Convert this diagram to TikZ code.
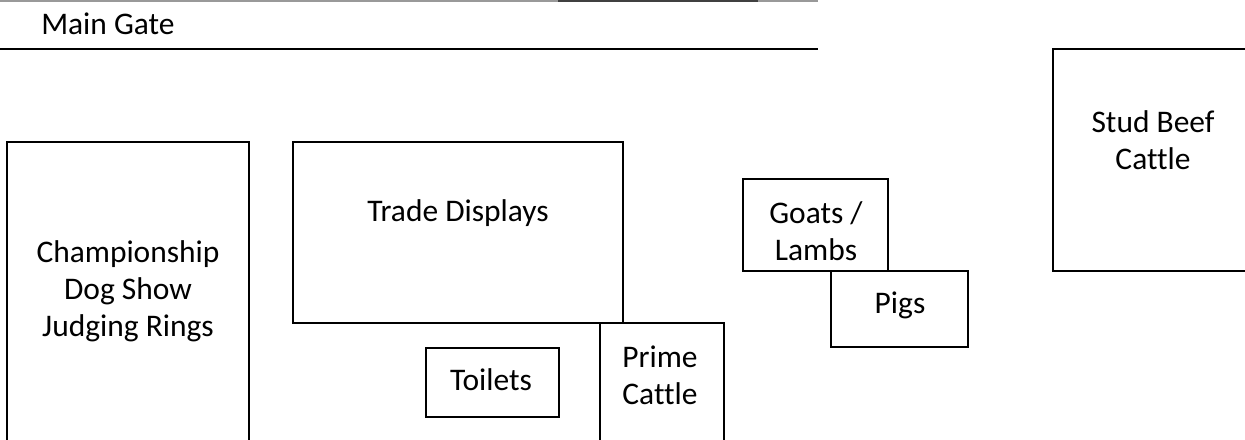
\documentclass[tikz,border=0pt]{standalone}
\usepackage{fontspec}
\setmainfont[Ligatures=NoCommon]{Carlito}
\begin{document}
\begin{tikzpicture}[x=0.75pt,y=-0.75pt,
  area/.style={draw=black,line width=1.2pt},
  lbl/.style={inner sep=0pt,align=center,font=\fontsize{23.6}{27.75}\selectfont}]
\useasboundingbox (0,0) rectangle (1245,439);
% gate lines
\draw[black!40,line width=1.3pt] (0,0.7) -- (818,0.7);
\draw[black!75,line width=1.3pt] (558,0.7) -- (758,0.7);
\draw[black,line width=1.5pt] (0,48.5) -- (818,48.5);
\node[lbl,anchor=base west] (gate) at (41,34) {Main Gate};
% areas
\draw[area] (7,440) -- (7,142) -- (249,142) -- (249,440);
\node[lbl] (dog) at (128,291) {Championship\\Dog Show\\Judging Rings};
\draw[area] (293,142) rectangle (623,323);
\node[lbl] (trade) at (458,213) {Trade Displays};
\draw[area] (426,348) rectangle (559,417);
\node[lbl] (toilets) at (491,380) {Toilets};
\draw[area] (600,440) -- (600,323) -- (724,323) -- (724,440);
\node[lbl] (prime) at (660,375) {Prime\\Cattle};
\draw[area] (743,179) rectangle (888,271);
\node[lbl] (goats) at (816,231) {Goats /\\Lambs};
\draw[area] (831,271) rectangle (968,347);
\node[lbl] (pigs) at (900,305) {Pigs};
\draw[area] (1246,49) -- (1053,49) -- (1053,271) -- (1246,271);
\node[lbl] (stud) at (1153,140) {Stud Beef\\Cattle};
\end{tikzpicture}
\end{document}
